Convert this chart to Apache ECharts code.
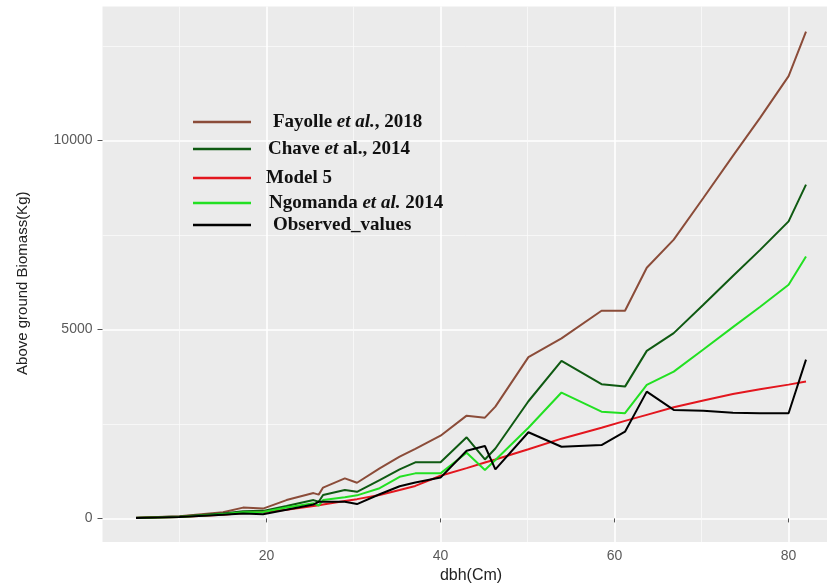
<!DOCTYPE html>
<html>
<head>
<meta charset="utf-8">
<title>Above ground biomass vs dbh</title>
<script src="https://cdn.jsdelivr.net/npm/echarts@6/dist/echarts.min.js"></script>
<style>
  html, body { margin: 0; padding: 0; background: #ffffff; }
  #chart { width: 827px; height: 587px; }
</style>
</head>
<body>
<div id="chart"></div>
<script>
// Diameter at breast height (cm) of the sampled trees
const dbh = [5, 10, 15, 17.3, 19.6, 22.3, 25.4, 26, 26.5, 29, 30.4, 33, 35.3, 37.1, 40, 43, 45.1, 46.3, 50.1, 53.9, 58.5, 61.2, 63.7, 66.8, 70.2, 73.6, 76.7, 80, 82];

// Above ground biomass (kg) per allometric model
const fayolle  = [15, 60, 165, 286, 260, 485, 670, 630, 816, 1060, 943, 1325, 1632, 1842, 2189, 2719, 2666, 2957, 4267, 4765, 5493, 5493, 6633, 7375, 8477, 9590, 10592, 11702, 12880];
const chave    = [15, 50, 130, 190, 200, 330, 485, 440, 620, 750, 705, 1012, 1298, 1484, 1484, 2146, 1560, 1850, 3100, 4170, 3551, 3487, 4433, 4903, 5655, 6416, 7099, 7860, 8830];
const model5   = [10, 40, 100, 140, 170, 230, 330, 350, 370, 460, 510, 620, 750, 860, 1130, 1330, 1480, 1560, 1830, 2110, 2400, 2580, 2740, 2940, 3120, 3290, 3420, 3540, 3620];
const ngomanda = [12, 40, 110, 160, 170, 290, 400, 340, 485, 560, 610, 800, 1102, 1192, 1192, 1738, 1280, 1545, 2400, 3330, 2825, 2783, 3532, 3885, 4470, 5062, 5594, 6182, 6932];
const observed = [10, 40, 100, 130, 110, 230, 370, 440, 440, 440, 380, 640, 850, 950, 1080, 1791, 1916, 1298, 2279, 1897, 1942, 2295, 3355, 2870, 2851, 2798, 2782, 2782, 4200];

// Axis breaks
const xTicks = [20, 40, 60, 80];
const xMinor = [10, 30, 50, 70];
const yTicks = [0, 5000, 10000];
const yMinor = [2500, 7500, 12500];

// Series names and legend labels
const names = ['Fayolle et al., 2018', 'Chave et al., 2014', 'Model 5', 'Ngomanda et al. 2014', 'Observed_values'];
const legendLabels = {
  'Fayolle et al., 2018': 'Fayolle {i|et al.}, 2018',
  'Chave et al., 2014': 'Chave {i|et} al., 2014',
  'Model 5': 'Model 5',
  'Ngomanda et al. 2014': 'Ngomanda {i|et al.} 2014',
  'Observed_values': 'Observed_values'
};
const values = [fayolle, chave, model5, ngomanda, observed];
const colors = ['#8B4C39', '#0F5A12', '#E3161E', '#22E022', '#000000'];

// Padded axis ranges (5% expansion on each side)
const X_MIN = 1.15, X_MAX = 85.85;
const Y_MIN = -624, Y_MAX = 13544;

const pairs = (ys) => dbh.map((x, i) => [x, ys[i]]);

const series = names.map((n, k) => ({
  name: n,
  type: 'line',
  xAxisIndex: 0,
  yAxisIndex: 0,
  data: pairs(values[k]),
  color: colors[k],
  symbol: 'none',
  showSymbol: false,
  lineStyle: { width: 2, color: colors[k] },
  z: 3 + k
}));

// One legend block per entry so every row sits where it belongs
const legendRows = [
  { top: 122, gap: 17 },
  { top: 149, gap: 12 },
  { top: 178, gap: 10 },
  { top: 203, gap: 13 },
  { top: 225, gap: 17 }
];
const LEGEND_FONT = 19;
const richText = {
  i: { fontStyle: 'italic', fontFamily: 'Liberation Serif', fontSize: LEGEND_FONT, fontWeight: 'bold', color: '#111' }
};
const legends = names.map((n, k) => ({
  data: [n],
  left: 193,
  top: legendRows[k].top - 11,
  padding: 0,
  icon: 'rect',
  itemWidth: 58,
  itemHeight: 2.5,
  itemGap: 0,
  selectedMode: false,
  formatter: (name) => '{s' + k + '|}' + legendLabels[name],
  textStyle: {
    fontFamily: 'Liberation Serif',
    fontSize: LEGEND_FONT,
    fontWeight: 'bold',
    color: '#111',
    lineHeight: 22,
    rich: Object.assign({}, richText, { ['s' + k]: { width: legendRows[k].gap } })
  }
}));

const gridLine = { color: '#ffffff', width: 1.6 };
const minorLine = { color: '#fafafa', width: 0.8 };
const tickLabel = { color: '#5a5a5a', fontSize: 14, fontFamily: 'Liberation Sans', formatter: (v) => String(v) };

const option = {
  animation: false,
  backgroundColor: '#ffffff',
  grid: {
    left: 102.5, top: 6.5, width: 737, height: 535.5,
    outerBoundsMode: 'none', containLabel: false,
    show: true, backgroundColor: '#EBEBEB', borderWidth: 0, borderColor: 'transparent'
  },
  legend: legends,
  xAxis: [
    {
      type: 'value', min: X_MIN, max: X_MAX, position: 'bottom',
      name: 'dbh(Cm)', nameLocation: 'middle', nameGap: 26,
      nameTextStyle: { color: '#222', fontSize: 16, fontFamily: 'Liberation Sans' },
      axisLine: { show: false },
      axisTick: { show: true, customValues: xTicks, length: 4, lineStyle: { color: '#555', width: 1 } },
      axisLabel: Object.assign({ customValues: xTicks, margin: 7 }, tickLabel),
      splitLine: { show: true, lineStyle: gridLine }
    },
    {
      type: 'value', min: X_MIN, max: X_MAX, position: 'bottom',
      axisLine: { show: false },
      axisTick: { show: false, customValues: xMinor },
      axisLabel: { show: false, customValues: xMinor },
      splitLine: { show: true, lineStyle: minorLine }
    }
  ],
  yAxis: [
    {
      type: 'value', min: Y_MIN, max: Y_MAX, position: 'left',
      name: 'Above ground Biomass(Kg)', nameLocation: 'middle', nameGap: 72,
      nameTextStyle: { color: '#222', fontSize: 15, fontFamily: 'Liberation Sans', padding: [0, 18, 0, 0] },
      axisLine: { show: false },
      axisTick: { show: true, customValues: yTicks, length: 5, lineStyle: { color: '#555', width: 1 } },
      axisLabel: Object.assign({ customValues: yTicks, margin: 10 }, tickLabel),
      splitLine: { show: true, lineStyle: gridLine }
    },
    {
      type: 'value', min: Y_MIN, max: Y_MAX, position: 'left',
      axisLine: { show: false },
      axisTick: { show: false, customValues: yMinor },
      axisLabel: { show: false, customValues: yMinor },
      splitLine: { show: true, lineStyle: minorLine }
    }
  ],
  series: series
};

const chart = echarts.init(document.getElementById('chart'), null, { renderer: 'canvas' });
chart.setOption(option);
</script>
</body>
</html>
